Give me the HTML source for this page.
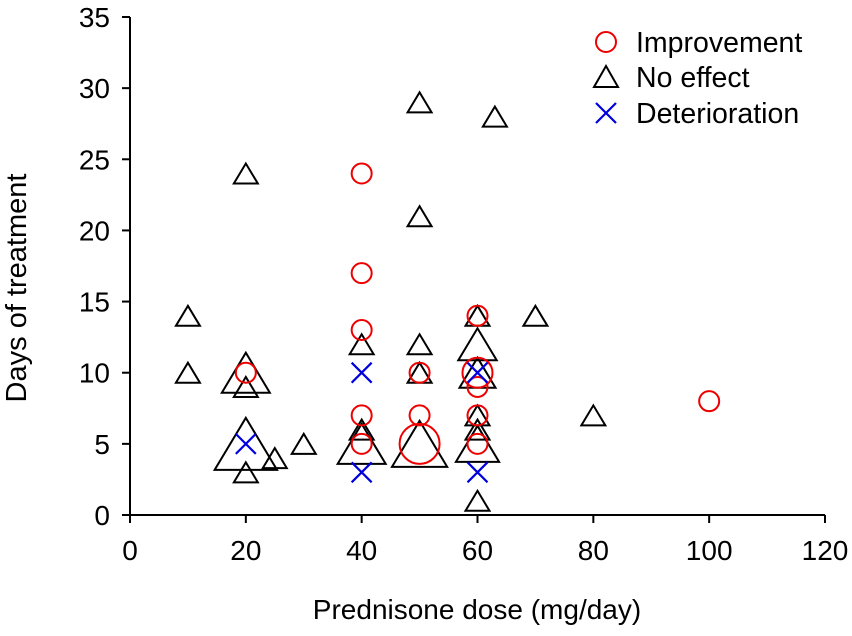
<!DOCTYPE html>
<html><head><meta charset="utf-8"><style>
body{margin:0;background:#fff}
svg text{font-family:"Liberation Sans",Arial,sans-serif;fill:#000}
</style></head><body>
<svg id="chart" width="852" height="631" viewBox="0 0 852 631" xmlns="http://www.w3.org/2000/svg">
<g id="axes"></g>
<g id="marks"></g>
<text x="477" y="619" font-size="28" text-anchor="middle">Prednisone dose (mg/day)</text>
<text transform="translate(26,288) rotate(-90)" font-size="29" text-anchor="middle">Days of treatment</text>
<g>
<g><circle cx="606" cy="42" r="10" fill="none" stroke="#e00" stroke-width="2"/><text x="636" y="52" font-size="28.5">Improvement</text></g>
<g><path d="M594,87 L618,87 L606,66 Z" fill="none" stroke="#000" stroke-width="2"/><text x="636" y="87" font-size="28.5">No effect</text></g>
<g><path d="M596,103 L616,123 M616,103 L596,123" stroke="#00d" stroke-width="2.2"/><text x="636" y="123" font-size="28.5">Deterioration</text></g>
</g>
</svg>
<script>
const xTicks=[0,20,40,60,80,100,120];
const yTicks=[0,5,10,15,20,25,30,35];
const triX=[10,10,20,20,20,20,20,25,30,40,40,40,50,50,50,50,50,60,60,60,60,60,60,60,63,70,80];
const triY=[14,10,24,10,9,5,3,4,5,12,6,5,29,21,12,10,5,14,12,10,7,6,5,1,28,14,7];
const triS=[1,1,1,2,1,2.6,1,1,1,1,1,2,1,1,1,1,2.3,1,1.6,1.5,1,1,1.8,1,1,1,1];
const impX=[20,40,40,40,40,40,50,50,50,60,60,60,60,60,100];
const impY=[10,24,17,13,7,5,10,7,5,14,10,9,7,5,8];
const impS=[1,1,1,1,1,1,1,1,2,1,1.5,1,1,1,1];
const detX=[20,40,40,60,60];
const detY=[5,10,3,10,3];
const X=v=>130+v*(825-130)/120;
const Y=v=>515-v*(515-17)/35;
const NS="http://www.w3.org/2000/svg";
function mk(t,a,p){const e=document.createElementNS(NS,t);for(const k in a)e.setAttribute(k,a[k]);p.appendChild(e);return e;}
const ax=document.getElementById('axes'),mg=document.getElementById('marks');
let l=mk('line',{x1:X(0),y1:Y(0),x2:X(120),y2:Y(0),stroke:'#000','stroke-width':2},ax);


l=mk('line',{x1:X(0),y1:Y(0),x2:X(0),y2:Y(35),stroke:'#000','stroke-width':2},ax);


xTicks.forEach(v=>{mk('line',{x1:X(v),x2:X(v),y1:Y(0),y2:Y(0)+8,stroke:'#000','stroke-width':2},ax);
const t=mk('text',{x:X(v),y:Y(0)+45,'font-size':28,'text-anchor':'middle'},ax);t.textContent=v;

});
yTicks.forEach(v=>{mk('line',{x1:X(0)-8,x2:X(0),y1:Y(v),y2:Y(v),stroke:'#000','stroke-width':2},ax);
const t=mk('text',{x:X(0)-20,y:Y(v)+10,'font-size':28,'text-anchor':'end'},ax);t.textContent=v;

});
triX.forEach((x,i)=>{const cx=X(x),cy=Y(triY[i]),s=triS[i],w=12*s,h=20*s;
const p=mk('path',{d:`M${cx-w},${cy+h/2} L${cx+w},${cy+h/2} L${cx},${cy-h/2} Z`,fill:'none',stroke:'#000','stroke-width':2},mg);

});
impX.forEach((x,i)=>{const c=mk('circle',{cx:X(x),cy:Y(impY[i]),r:10*impS[i],fill:'none',stroke:'#e00','stroke-width':2},mg);

});
detX.forEach((x,i)=>{const cx=X(x),cy=Y(detY[i]);
const p=mk('path',{d:`M${cx-10},${cy-10} L${cx+10},${cy+10} M${cx+10},${cy-10} L${cx-10},${cy+10}`,stroke:'#00d','stroke-width':2.2},mg);

});
</script>
</body></html>
